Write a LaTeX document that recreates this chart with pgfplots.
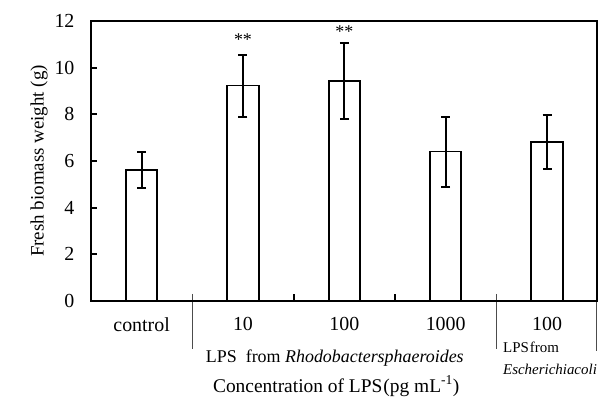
\documentclass[border=0pt]{standalone}
\usepackage{fontspec}
\setmainfont{Liberation Serif}
\usepackage{pgfplots}
\pgfplotsset{compat=1.18}
\usepackage{pgfplotstable}
\pgfplotstableread{
x y ep em
0 5.61 0.79 0.78
1 9.23 1.31 1.34
2 9.41 1.66 1.62
3 6.40 1.50 1.50
4 6.80 1.16 1.16
}\biomass
\begin{document}
\begin{tikzpicture}[x=1bp,y=1bp]
\begin{axis}[
  scale only axis,
  width=507bp, height=280bp,
  xmin=-0.5, xmax=4.5,
  ymin=0, ymax=12,
  ytick={0,2,...,12},
  xtick={0,1,2,3,4},
  xticklabels={control,10,100,1000,100},
  major x tick style={draw=none},
  major y tick style={line width=2bp, black},
  major tick length=6bp,
  tick align=inside,
  ytick pos=left,
  xtick pos=bottom,
  axis line style={line width=1.5bp, black},
  clip=false,
  /pgf/number format/assume math mode=true,
  ticklabel style={font=\fontsize{20}{24}\selectfont},
  yticklabel style={xshift=-13bp},
  xticklabel style={yshift=-13bp},
  ylabel={Fresh biomass weight (g)},
  ylabel style={font=\fontsize{19}{23}\selectfont},
]
\addplot[ybar, bar width=0.31, draw=black, line width=1.8bp, fill=white,
  error bars/.cd, y dir=both, y explicit,
  error bar style={line width=2bp, black},
  error mark options={rotate=90, mark size=4.5bp, line width=2bp, black}]
  table[x=x, y=y, y error plus=ep, y error minus=em]{\biomass};
% top and right frame lines
\draw[line width=2.2bp, black] (axis cs:-0.5,12) -- (axis cs:4.5,12);
\draw[line width=1.6bp, black] (axis cs:4.492,12) -- (axis cs:4.492,0);
% short inner ticks
\draw[line width=2bp] (axis cs:1.5,0) -- (axis cs:1.5,0.3);
\draw[line width=2bp] (axis cs:2.5,0) -- (axis cs:2.5,0.3);
% separators
\draw[line width=1bp, black!70] (axis cs:0.5,0.3) -- (axis cs:0.5,-2.06);
\draw[line width=1bp, black!70] (axis cs:3.5,0.3) -- (axis cs:3.5,-2.06);
\draw[line width=1bp, black!70] (axis cs:4.49,0) -- (axis cs:4.49,-2.15);
% significance
\node[font=\fontsize{18}{20}\selectfont] at (axis cs:1,11.2) {**};
\node[font=\fontsize{18}{20}\selectfont] at (axis cs:2,11.55) {**};
% group labels
\node[font=\fontsize{18}{20}\selectfont, anchor=west] at (axis cs:0.6,-2.45) {LPS\ \ from \textit{Rhodobactersphaeroides}};
\node[font=\fontsize{15}{17}\selectfont, anchor=west, inner sep=0pt] at (axis cs:3.565,-2.0) {LPS\kern1pt from};
\node[font=\fontsize{15}{17}\selectfont, anchor=west, inner sep=0pt] at (axis cs:3.565,-2.96) {\textit{Escherichiacoli}};
\node[font=\fontsize{19.5}{23}\selectfont, anchor=base] at (axis cs:1.92,-3.92) {Concentration of LPS\kern1pt(pg mL\textsuperscript{-1})};
\coordinate (BL) at (axis cs:-0.5,0);
\coordinate (TR) at (axis cs:4.5,12);
\end{axis}
\draw[line width=2.2bp, line cap=rect] (BL|-TR) -- (BL) -- (TR|-BL);
\pgfresetboundingbox
\path ([shift={(-91bp,-96bp)}]BL) rectangle ([shift={(0.3bp,21bp)}]TR);
\end{tikzpicture}
\end{document}
